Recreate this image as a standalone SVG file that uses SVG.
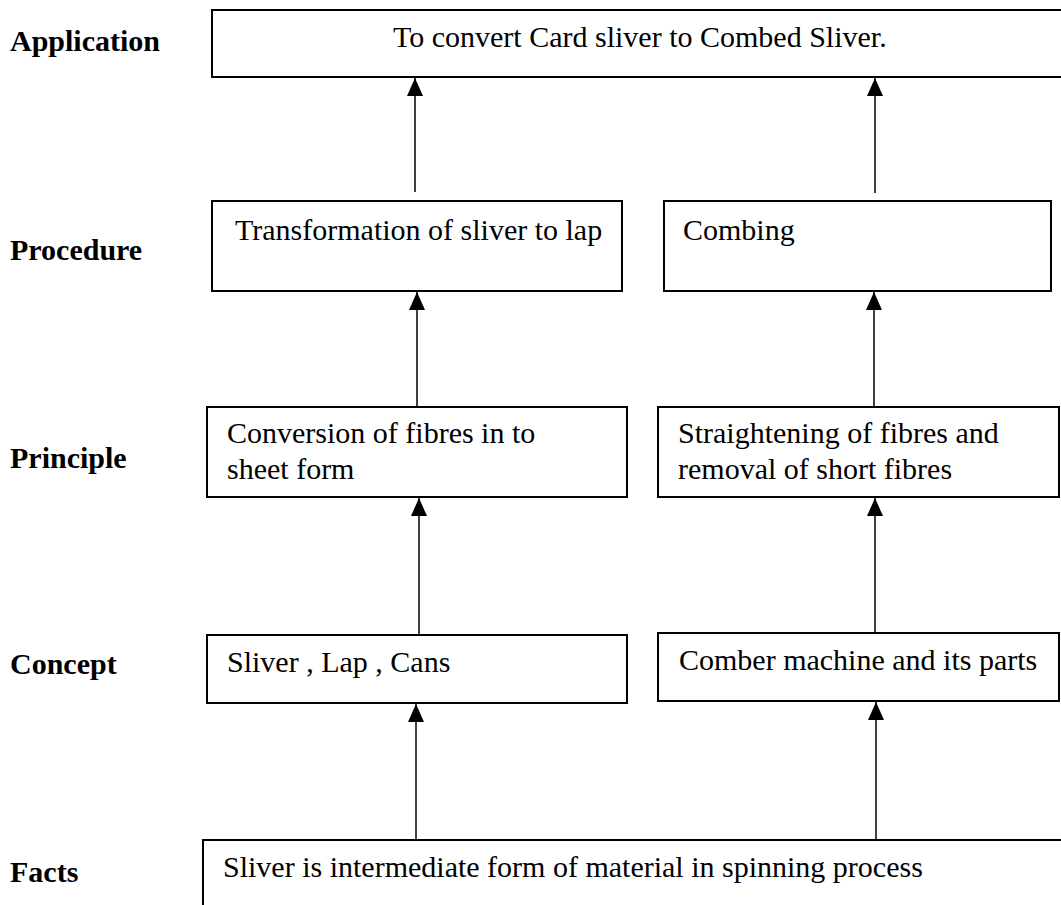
<svg xmlns="http://www.w3.org/2000/svg" width="1061" height="905" viewBox="0 0 1061 905">
  <style>
    .label { font-family: "Liberation Serif", "Times New Roman", serif; font-size: 30px; font-weight: bold; fill: #000; }
    .txt { font-family: "Liberation Serif", "Times New Roman", serif; font-size: 30px; fill: #000; }
    .box { fill: #fff; stroke: #000; stroke-width: 2; }
    .link { stroke: #000; stroke-width: 1.5; fill: none; marker-end: url(#arrow); }
  </style>
  <defs>
    <marker id="arrow" markerUnits="userSpaceOnUse" markerWidth="18" markerHeight="16" refX="18" refY="8" orient="auto">
      <path d="M0,0 L18,8 L0,16 Z" fill="#000"/>
    </marker>
  </defs>
  <rect width="1061" height="905" fill="#fff"/>

  <!-- level labels -->
  <g id="levels">
    <text class="label" x="10" y="51">Application</text>
    <text class="label" x="10" y="260">Procedure</text>
    <text class="label" x="10" y="468">Principle</text>
    <text class="label" x="10" y="674">Concept</text>
    <text class="label" x="10" y="882">Facts</text>
  </g>

  <g id="application">
    <rect class="box" x="212" y="10" width="870" height="67"/>
    <text class="txt" x="393" y="47">To convert Card sliver to Combed Sliver.</text>
  </g>

  <g id="procedure-lap">
    <rect class="box" x="212" y="201" width="410" height="90"/>
    <text class="txt" x="235" y="240">Transformation of sliver to lap</text>
  </g>

  <g id="procedure-combing">
    <rect class="box" x="664" y="201" width="387" height="90"/>
    <text class="txt" x="683" y="240">Combing</text>
  </g>

  <g id="principle-sheet">
    <rect class="box" x="207" y="407" width="420" height="90"/>
    <text class="txt" x="227" y="443">Conversion of fibres in to</text>
    <text class="txt" x="227" y="479">sheet form</text>
  </g>

  <g id="principle-straighten">
    <rect class="box" x="658" y="407" width="401" height="90"/>
    <text class="txt" x="678" y="443">Straightening of fibres and</text>
    <text class="txt" x="678" y="479">removal of short fibres</text>
  </g>

  <g id="concept-sliver">
    <rect class="box" x="207" y="635" width="420" height="68"/>
    <text class="txt" x="227" y="672">Sliver , Lap , Cans</text>
  </g>

  <g id="concept-comber">
    <rect class="box" x="658" y="633" width="401" height="68"/>
    <text class="txt" x="679" y="670">Comber machine and its parts</text>
  </g>

  <g id="facts">
    <rect class="box" x="203" y="840" width="880" height="90"/>
    <text class="txt" x="223" y="877">Sliver is intermediate form of material in spinning process</text>
  </g>

  <!-- upward arrows between levels -->
  <g id="connectors">
    <line class="link" x1="416" y1="839" x2="416" y2="704"/>
    <line class="link" x1="876" y1="839" x2="876" y2="702"/>
    <line class="link" x1="419" y1="634" x2="419" y2="498"/>
    <line class="link" x1="875" y1="632" x2="875" y2="498"/>
    <line class="link" x1="417" y1="406" x2="417" y2="292"/>
    <line class="link" x1="874" y1="406" x2="874" y2="292"/>
    <line class="link" x1="415" y1="192" x2="415" y2="78"/>
    <line class="link" x1="875" y1="193" x2="875" y2="78"/>
  </g>
</svg>
